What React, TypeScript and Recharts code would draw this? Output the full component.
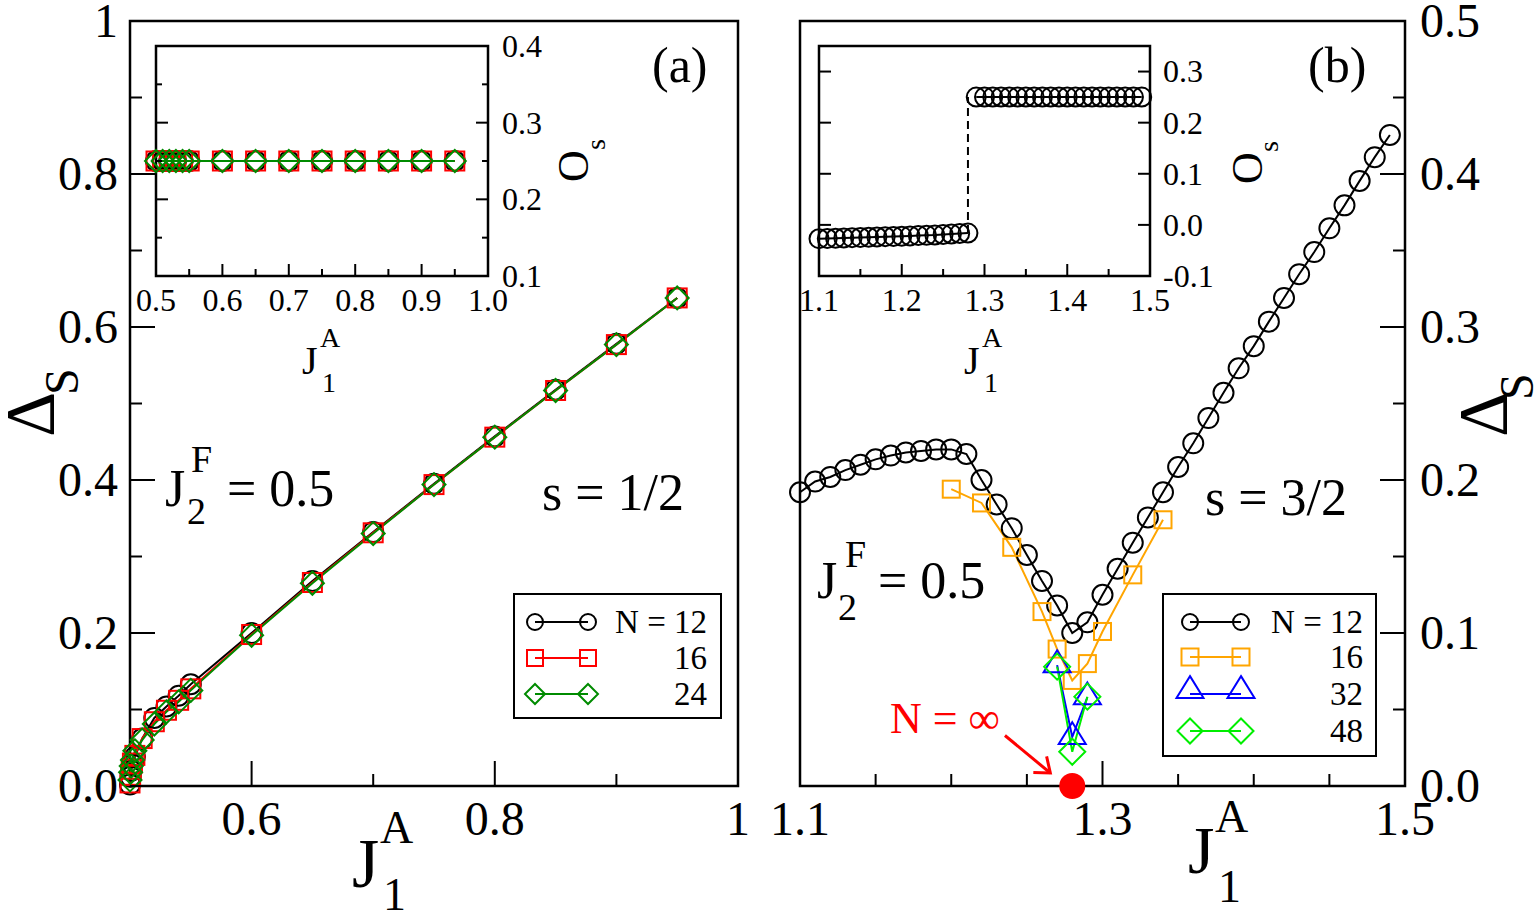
import { ComposedChart, Line, XAxis, YAxis, ReferenceArea, ReferenceLine } from 'recharts';

const SERIF = '"Liberation Serif", "Times New Roman", serif';
const W = 1538;
const H = 919;

const GREEN_A = '#008b00';
const GREEN_B = '#00ee00';
const ORANGE = '#ffa500';
const BLUE = '#0000ff';
const RED = '#ff0000';

// ---- (a) s = 1/2, gap vs J1A ----
const aJ = [0.5, 0.5005, 0.501, 0.502, 0.504, 0.51, 0.52, 0.53, 0.54, 0.55, 0.6, 0.65, 0.7, 0.75, 0.8, 0.85, 0.9, 0.95];
const aGap12 = [0.002, 0.012, 0.02, 0.028, 0.038, 0.062, 0.089, 0.104, 0.118, 0.133, 0.2, 0.268, 0.332, 0.395, 0.457, 0.518, 0.578, 0.638];
const aGap16 = [0.004, 0.014, 0.022, 0.03, 0.04, 0.062, 0.084, 0.099, 0.112, 0.127, 0.198, 0.266, 0.331, 0.394, 0.456, 0.517, 0.577, 0.638];
const aGap24 = [0.008, 0.018, 0.026, 0.034, 0.046, 0.06, 0.081, 0.097, 0.11, 0.125, 0.197, 0.265, 0.33, 0.394, 0.456, 0.517, 0.577, 0.638];

// inset (a): order parameter
const aOrdJ = [0.5, 0.51, 0.52, 0.53, 0.54, 0.55, 0.6, 0.65, 0.7, 0.75, 0.8, 0.85, 0.9, 0.95];
const aOrd12 = [0.25, 0.25, 0.25, 0.25, 0.25, 0.25, 0.25, 0.25, 0.25, 0.25, 0.25, 0.25, 0.25, 0.25];
const aOrd16 = [0.25, 0.25, 0.25, 0.25, 0.25, 0.25, 0.25, 0.25, 0.25, 0.25, 0.25, 0.25, 0.25, 0.25];
const aOrd24 = [0.25, 0.25, 0.25, 0.25, 0.25, 0.25, 0.25, 0.25, 0.25, 0.25, 0.25, 0.25, 0.25, 0.25];

// ---- (b) s = 3/2 ----
const bJ12 = [1.1, 1.11, 1.12, 1.13, 1.14, 1.15, 1.16, 1.17, 1.18, 1.19, 1.2, 1.21, 1.22, 1.23, 1.24, 1.25, 1.26, 1.27, 1.28, 1.29,
  1.3, 1.31, 1.32, 1.33, 1.34, 1.35, 1.36, 1.37, 1.38, 1.39, 1.4, 1.41, 1.42, 1.43, 1.44, 1.45, 1.46, 1.47, 1.48, 1.49];
const bGap12 = [0.192, 0.199, 0.202, 0.2065, 0.21, 0.2135, 0.216, 0.218, 0.219, 0.22, 0.22, 0.217, 0.2, 0.184, 0.1685, 0.151, 0.134, 0.118, 0.1, 0.107,
  0.125, 0.142, 0.159, 0.1755, 0.192, 0.2085, 0.224, 0.2405, 0.257, 0.273, 0.2875, 0.3035, 0.319, 0.3345, 0.349, 0.3645, 0.3795, 0.3955, 0.411, 0.4255];
const bJ16 = [1.2, 1.22, 1.24, 1.26, 1.27, 1.28, 1.29, 1.3, 1.32, 1.34];
const bGap16 = [0.194, 0.185, 0.156, 0.114, 0.0895, 0.069, 0.08, 0.101, 0.138, 0.174];
const bJ32 = [1.27, 1.28, 1.29];
const bGap32 = [0.079, 0.032, 0.058];
const bJ48 = [1.27, 1.28, 1.29];
const bGap48 = [0.078, 0.0224, 0.0584];
const bJInf = [1.28];
const bGapInf = [0];

// inset (b): order parameter, N = 12
const bOrdJLow = [1.1, 1.11, 1.12, 1.13, 1.14, 1.15, 1.16, 1.17, 1.18, 1.19, 1.2, 1.21, 1.22, 1.23, 1.24, 1.25, 1.26, 1.27, 1.28];
const bOrdLow = [-0.027, -0.0265, -0.026, -0.0255, -0.025, -0.0245, -0.024, -0.0235, -0.023, -0.0225, -0.022, -0.0215, -0.021, -0.0205, -0.02, -0.019, -0.018, -0.017, -0.016];
const bOrdJHigh = [1.29, 1.3, 1.31, 1.32, 1.33, 1.34, 1.35, 1.36, 1.37, 1.38, 1.39, 1.4, 1.41, 1.42, 1.43, 1.44, 1.45, 1.46, 1.47, 1.48, 1.49];
const bOrdHigh = [0.25, 0.25, 0.25, 0.25, 0.25, 0.25, 0.25, 0.25, 0.25, 0.25, 0.25, 0.25, 0.25, 0.25, 0.25, 0.25, 0.25, 0.25, 0.25, 0.25, 0.25];
const bJumpJ = [1.28, 1.28];
const bJump = [-0.016, 0.25];

// arrow pointing at the N = infinity point
const infArrowFrom = { x: 1.2355, y: 0.033 };
const infArrowTo = { x: 1.2655, y: 0.0085 };

// ticks
const aXTicks = [0.6, 0.7, 0.8, 0.9, 1];
const aXLabels = ['0.6', '', '0.8', '', '1'];
const aYTicks = [0, 0.1, 0.2, 0.3, 0.4, 0.5, 0.6, 0.7, 0.8, 0.9, 1];
const aYLabels = ['0.0', '', '0.2', '', '0.4', '', '0.6', '', '0.8', '', '1'];
const aInXTicks = [0.5, 0.55, 0.6, 0.65, 0.7, 0.75, 0.8, 0.85, 0.9, 0.95, 1];
const aInXLabels = ['0.5', '', '0.6', '', '0.7', '', '0.8', '', '0.9', '', '1.0'];
const aInYTicks = [0.1, 0.15, 0.2, 0.25, 0.3, 0.35, 0.4];
const aInYLabels = ['0.1', '', '0.2', '', '0.3', '', '0.4'];
const bXTicks = [1.1, 1.15, 1.2, 1.25, 1.3, 1.35, 1.4, 1.45, 1.5];
const bXLabels = ['1.1', '', '', '', '1.3', '', '', '', '1.5'];
const bYTicks = [0, 0.05, 0.1, 0.15, 0.2, 0.25, 0.3, 0.35, 0.4, 0.45, 0.5];
const bYLabels = ['0.0', '', '0.1', '', '0.2', '', '0.3', '', '0.4', '', '0.5'];
const bInXTicks = [1.1, 1.15, 1.2, 1.25, 1.3, 1.35, 1.4, 1.45, 1.5];
const bInXLabels = ['1.1', '', '1.2', '', '1.3', '', '1.4', '', '1.5'];
const bInYTicks = [-0.1, 0, 0.1, 0.2, 0.3];
const bInYLabels = ['-0.1', '0.0', '0.1', '0.2', '0.3'];

type Kind = 'circle' | 'square' | 'diamond' | 'triangle' | 'dot';

type Series = {
  name: string;
  xs: number[];
  ys: number[];
  color: string;
  kind?: Kind;
  r?: number;
  dash?: string;
};

const pts = (xs: number[], ys: number[]) => xs.map((x, i) => ({ x, y: ys[i] }));

function Mark({ kind, cx, cy, color, r }: { kind: Kind; cx: number; cy: number; color: string; r: number }) {
  const common = { fill: 'none', stroke: color, strokeWidth: 2 };
  switch (kind) {
    case 'circle':
      return <circle cx={cx} cy={cy} r={r} {...common} />;
    case 'square':
      return <rect x={cx - r} y={cy - r} width={2 * r} height={2 * r} {...common} />;
    case 'diamond':
      return <polygon points={`${cx},${cy - r} ${cx + r},${cy} ${cx},${cy + r} ${cx - r},${cy}`} {...common} />;
    case 'triangle':
      return <polygon points={`${cx},${cy - 1.1 * r} ${cx + r},${cy + 0.52 * r} ${cx - r},${cy + 0.52 * r}`} {...common} />;
    default:
      return <circle cx={cx} cy={cy} r={r} fill={color} stroke="none" />;
  }
}

type TickOpts = {
  side: 'bottom' | 'left' | 'right';
  labels: string[];
  major: number;
  minor: number;
  fs: number;
  gap: number;
  mirror?: number;
};

// ticks point into the frame; the axes themselves are 1px wide and carry no line
const tickFn = (o: TickOpts) => (p: any) => {
  const label = o.labels[p.index] ?? '';
  const len = label ? o.major : o.minor;
  const { x, y } = p;
  const ln = { stroke: '#000', strokeWidth: 2 };
  if (o.side === 'bottom') {
    return (
      <g>
        <line x1={x} y1={y} x2={x} y2={y - len} {...ln} />
        {label && (
          <text x={x} y={y + o.gap} textAnchor="middle" fontSize={o.fs} fontFamily={SERIF} fill="#000">
            {label}
          </text>
        )}
      </g>
    );
  }
  const dir = o.side === 'left' ? 1 : -1;
  // opposite frame edge for the mirrored tick
  const ox = o.mirror !== undefined ? x + dir * o.mirror : 0;
  return (
    <g>
      <line x1={x} y1={y} x2={x + dir * len} y2={y} {...ln} />
      {o.mirror !== undefined && <line x1={ox} y1={y} x2={ox - dir * len} y2={y} {...ln} />}
      {label && (
        <text
          x={x - dir * o.gap}
          y={y + o.fs * 0.34}
          textAnchor={o.side === 'left' ? 'end' : 'start'}
          fontSize={o.fs}
          fontFamily={SERIF}
          fill="#000"
        >
          {label}
        </text>
      )}
    </g>
  );
};

function seriesLines(list: Series[], width: number) {
  return list.map((s) => (
    <Line
      key={s.name}
      data={pts(s.xs, s.ys)}
      dataKey="y"
      type="linear"
      stroke={s.color}
      strokeWidth={width}
      strokeDasharray={s.dash}
      dot={
        s.kind
          ? (p: any) =>
              p.cx == null ? <g key={`${s.name}-${p.index}`} /> : (
                <Mark key={`${s.name}-${p.index}`} kind={s.kind!} cx={p.cx} cy={p.cy} color={s.color} r={s.r ?? 10} />
              )
          : false
      }
      activeDot={false}
      legendType="none"
      isAnimationActive={false}
    />
  ));
}

const aSeries: Series[] = [
  { name: 'a12', xs: aJ, ys: aGap12, color: '#000', kind: 'circle', r: 10 },
  { name: 'a16', xs: aJ, ys: aGap16, color: RED, kind: 'square', r: 9.5 },
  { name: 'a24', xs: aJ, ys: aGap24, color: GREEN_A, kind: 'diamond', r: 11.5 },
];
const aInSeries: Series[] = [
  { name: 'ai12', xs: aOrdJ, ys: aOrd12, color: '#000', kind: 'circle', r: 10 },
  { name: 'ai16', xs: aOrdJ, ys: aOrd16, color: RED, kind: 'square', r: 9.5 },
  { name: 'ai24', xs: aOrdJ, ys: aOrd24, color: GREEN_A, kind: 'diamond', r: 11 },
];
const bSeries: Series[] = [
  { name: 'b12', xs: bJ12, ys: bGap12, color: '#000', kind: 'circle', r: 10 },
  { name: 'b16', xs: bJ16, ys: bGap16, color: ORANGE, kind: 'square', r: 8.5 },
  { name: 'b32', xs: bJ32, ys: bGap32, color: BLUE, kind: 'triangle', r: 13.5 },
  { name: 'b48', xs: bJ48, ys: bGap48, color: GREEN_B, kind: 'diamond', r: 13 },
];
const bInSeries: Series[] = [
  { name: 'jump', xs: bJumpJ, ys: bJump, color: '#000', dash: '8 5' },
  { name: 'low', xs: bOrdJLow, ys: bOrdLow, color: '#000', kind: 'circle', r: 9.5 },
  { name: 'high', xs: bOrdJHigh, ys: bOrdHigh, color: '#000', kind: 'circle', r: 9.5 },
];

const legendA = [
  { label: 'N = 12', kind: 'circle' as Kind, color: '#000', r: 8 },
  { label: '16', kind: 'square' as Kind, color: RED, r: 8 },
  { label: '24', kind: 'diamond' as Kind, color: GREEN_A, r: 10 },
];
const legendB = [
  { label: 'N = 12', kind: 'circle' as Kind, color: '#000', r: 8 },
  { label: '16', kind: 'square' as Kind, color: ORANGE, r: 8.5 },
  { label: '32', kind: 'triangle' as Kind, color: BLUE, r: 13.5 },
  { label: '48', kind: 'diamond' as Kind, color: GREEN_B, r: 12.5 },
];

function ArrowShape(p: any) {
  const { x1, y1, x2, y2 } = p;
  const a = Math.atan2(y2 - y1, x2 - x1);
  const L = 17;
  const h = 0.66;
  const hx1 = x2 - L * Math.cos(a - h);
  const hy1 = y2 - L * Math.sin(a - h);
  const hx2 = x2 - L * Math.cos(a + h);
  const hy2 = y2 - L * Math.sin(a + h);
  return (
    <g stroke={RED} strokeWidth={3} fill="none">
      <line x1={x1} y1={y1} x2={x2} y2={y2} />
      <polyline points={`${hx1},${hy1} ${x2},${y2} ${hx2},${hy2}`} />
    </g>
  );
}

const box = { position: 'absolute' as const, left: 0, top: 0 };
const axisBase = { type: 'number' as const, interval: 0 as const, axisLine: false, tickLine: false, tickSize: 0, tickMargin: 0 };

function PanelA() {
  return (
    <div style={box}>
      <ComposedChart width={W} height={H} margin={{ top: 21, left: 129, right: 800, bottom: 132 }}>
        <XAxis {...axisBase} dataKey="x" domain={[0.5, 1]} ticks={aXTicks} height={1}
          tick={tickFn({ side: 'bottom', labels: aXLabels, major: 25, minor: 12, fs: 48, gap: 49 })} />
        <YAxis {...axisBase} domain={[0, 1]} ticks={aYTicks} width={1}
          tick={tickFn({ side: 'left', labels: aYLabels, major: 25, minor: 12, fs: 48, gap: 12 })} />
        <ReferenceArea x1={0.5} x2={1} y1={0} y2={1} fill="none" stroke="#000" strokeWidth={2.5} />
        {seriesLines(aSeries, 2)}
      </ComposedChart>
    </div>
  );
}

function InsetA() {
  return (
    <div style={box}>
      <ComposedChart width={W} height={H} margin={{ top: 46, left: 156, right: 1049, bottom: 642 }}>
        <XAxis {...axisBase} dataKey="x" domain={[0.5, 1]} ticks={aInXTicks} height={1}
          tick={tickFn({ side: 'bottom', labels: aInXLabels, major: 12, minor: 7, fs: 32, gap: 35 })} />
        <YAxis {...axisBase} orientation="right" domain={[0.1, 0.4]} ticks={aInYTicks} width={1}
          tick={tickFn({ side: 'right', labels: aInYLabels, major: 12, minor: 6, fs: 32, gap: 14, mirror: 332 })} />
        <ReferenceArea x1={0.5} x2={1} y1={0.1} y2={0.4} fill="#fff" fillOpacity={1} stroke="#000" strokeWidth={2.5} />
        {seriesLines(aInSeries, 2)}
      </ComposedChart>
    </div>
  );
}

function PanelB() {
  return (
    <div style={box}>
      <ComposedChart width={W} height={H} margin={{ top: 21, left: 800, right: 132, bottom: 132 }}>
        <XAxis {...axisBase} dataKey="x" domain={[1.1, 1.5]} ticks={bXTicks} height={1}
          tick={tickFn({ side: 'bottom', labels: bXLabels, major: 25, minor: 12, fs: 48, gap: 49 })} />
        <YAxis {...axisBase} orientation="right" domain={[0, 0.5]} ticks={bYTicks} width={1}
          tick={tickFn({ side: 'right', labels: bYLabels, major: 25, minor: 12, fs: 48, gap: 15 })} />
        <ReferenceArea x1={1.1} x2={1.5} y1={0} y2={0.5} fill="none" stroke="#000" strokeWidth={2.5} />
        <ReferenceLine segment={[infArrowFrom, infArrowTo]} stroke={RED} strokeWidth={3} shape={ArrowShape} />
        {seriesLines(bSeries, 2)}
        {seriesLines([{ name: 'inf', xs: bJInf, ys: bGapInf, color: RED, kind: 'dot', r: 13 }], 2)}
      </ComposedChart>
    </div>
  );
}

function InsetB() {
  return (
    <div style={box}>
      <ComposedChart width={W} height={H} margin={{ top: 46, left: 819, right: 387, bottom: 642 }}>
        <XAxis {...axisBase} dataKey="x" domain={[1.1, 1.5]} ticks={bInXTicks} height={1}
          tick={tickFn({ side: 'bottom', labels: bInXLabels, major: 12, minor: 7, fs: 32, gap: 35 })} />
        <YAxis {...axisBase} orientation="right" domain={[-0.1, 0.35]} ticks={bInYTicks} width={1}
          tick={tickFn({ side: 'right', labels: bInYLabels, major: 12, minor: 12, fs: 32, gap: 13, mirror: 331 })} />
        <ReferenceArea x1={1.1} x2={1.5} y1={-0.1} y2={0.35} fill="#fff" fillOpacity={1} stroke="#000" strokeWidth={2.5} />
        {seriesLines(bInSeries, 2)}
      </ComposedChart>
    </div>
  );
}

type LegendRow = { label: string; kind: Kind; color: string; r: number };

function LegendBox({ x, y, w, h, rows, rowY, m1, m2, right }: {
  x: number; y: number; w: number; h: number; rows: LegendRow[]; rowY: number[]; m1: number; m2: number; right: number;
}) {
  return (
    <g>
      <rect x={x} y={y} width={w} height={h} fill="#fff" stroke="#000" strokeWidth={2} />
      {rows.map((r, i) => (
        <g key={r.label}>
          <line x1={m1} y1={rowY[i]} x2={m2} y2={rowY[i]} stroke={r.color} strokeWidth={2} />
          <Mark kind={r.kind} cx={m1} cy={rowY[i] - (r.kind === 'triangle' ? 3 : 0)} color={r.color} r={r.r} />
          <Mark kind={r.kind} cx={m2} cy={rowY[i] - (r.kind === 'triangle' ? 3 : 0)} color={r.color} r={r.r} />
          <text x={right} y={rowY[i] + 11} textAnchor="end" fontSize={33} fontFamily={SERIF} fill="#000">
            {r.label}
          </text>
        </g>
      ))}
    </g>
  );
}

function T({ x, y, fs, children, fill = '#000', rot = false }: { x: number; y: number; fs: number; children: any; fill?: string; rot?: boolean }) {
  return (
    <text
      x={rot ? 0 : x}
      y={rot ? 0 : y}
      transform={rot ? `translate(${x},${y}) rotate(-90)` : undefined}
      fontSize={fs}
      fontFamily={SERIF}
      fill={fill}
    >
      {children}
    </text>
  );
}

function Annotations() {
  return (
    <svg width={W} height={H} style={{ position: 'absolute', left: 0, top: 0 }}>
      <LegendBox x={514} y={594} w={207} h={124} rows={legendA} rowY={[622, 658, 694]} m1={535} m2={588} right={707} />
      <LegendBox x={1163} y={594} w={213} h={162} rows={legendB} rowY={[622, 657, 694, 731]} m1={1190} m2={1241} right={1363} />

      {/* panel labels */}
      <T x={652} y={82} fs={50}>(a)</T>
      <T x={1308} y={82} fs={50}>(b)</T>

      {/* (a) text */}
      <T x={165} y={506} fs={52}>J</T>
      <T x={191} y={472} fs={38}>F</T>
      <T x={187} y={524} fs={38}>2</T>
      <T x={227} y={506} fs={52}>= 0.5</T>
      <T x={542} y={510} fs={52}>s = 1/2</T>

      {/* (b) text */}
      <T x={817} y={598} fs={52}>J</T>
      <T x={845} y={567} fs={38}>F</T>
      <T x={838} y={620} fs={38}>2</T>
      <T x={878} y={598} fs={52}>= 0.5</T>
      <T x={1205} y={515} fs={52}>s = 3/2</T>
      <T x={890} y={733} fs={44} fill={RED}>N = ∞</T>

      {/* main axis titles */}
      <T x={352} y={887} fs={70}>J</T>
      <T x={380} y={843} fs={46}>A</T>
      <T x={383} y={910} fs={46}>1</T>
      <T x={1188} y={873} fs={68}>J</T>
      <T x={1215} y={832} fs={46}>A</T>
      <T x={1218} y={902} fs={46}>1</T>
      <T x={54} y={437} fs={70} rot>Δ</T>
      <T x={78} y={395} fs={48} rot>S</T>
      <T x={1507} y={437} fs={70} rot>Δ</T>
      <T x={1533} y={400} fs={48} rot>S</T>

      {/* inset axis titles */}
      <T x={302} y={374} fs={40}>J</T>
      <T x={320} y={347} fs={28}>A</T>
      <T x={322} y={392} fs={28}>1</T>
      <T x={964} y={374} fs={40}>J</T>
      <T x={982} y={347} fs={28}>A</T>
      <T x={984} y={392} fs={28}>1</T>
      <T x={588} y={182} fs={44} rot>O</T>
      <T x={605} y={150} fs={28} rot>s</T>
      <T x={1262} y={184} fs={44} rot>O</T>
      <T x={1278} y={152} fs={28} rot>s</T>
    </svg>
  );
}

export default function App() {
  return (
    <div style={{ position: 'absolute', left: 0, top: 0, width: W, height: H, background: '#fff' }}>
      <PanelA />
      <PanelB />
      <InsetA />
      <InsetB />
      <Annotations />
    </div>
  );
}
